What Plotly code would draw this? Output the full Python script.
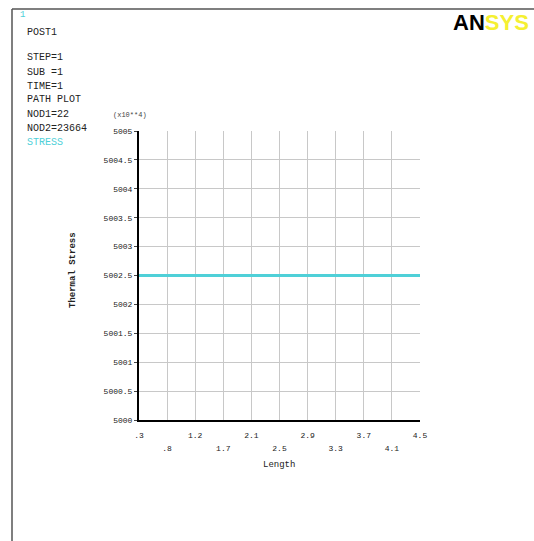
import plotly.graph_objects as go

# Data
path_length = [0.3, 4.5]
thermal_stress = [5002.5, 5002.5]   # in units of x10**4
x_tick_labels = [".3", ".8", "1.2", "1.7", "2.1", "2.5", "2.9", "3.3", "3.7", "4.1", "4.5"]
y_tick_vals = [5000, 5000.5, 5001, 5001.5, 5002, 5002.5, 5003, 5003.5, 5004, 5004.5, 5005]
y_tick_labels = ["5000", "5000.5", "5001", "5001.5", "5002", "5002.5", "5003", "5003.5", "5004", "5004.5", "5005"]
info_lines = ["STEP=1", "SUB =1", "TIME=1", "PATH PLOT", "NOD1=22", "NOD2=23664"]

W, H = 534, 541
L, R, T, B = 139, 420, 131, 420
def px(x):
    return (x - L) / (R - L)
def py(y):
    return (B - y) / (B - T)

n = len(x_tick_labels)
x_tick_vals = [path_length[0] + i * (path_length[1] - path_length[0]) / (n - 1) for i in range(n)]
odd_vals = x_tick_vals[1::2]
odd_text = x_tick_labels[1::2]

mono = "Liberation Mono, DejaVu Sans Mono, monospace"

fig = go.Figure()
fig.add_trace(go.Scatter(x=path_length, y=thermal_stress, mode="lines",
                         line=dict(color="#4fd0d8", width=3), showlegend=False, hoverinfo="skip"))
fig.add_trace(go.Scatter(x=path_length, y=thermal_stress, xaxis="x2", mode="lines",
                         line=dict(color="rgba(0,0,0,0)", width=0), showlegend=False, hoverinfo="skip"))

fig.update_layout(
    width=W, height=H,
    margin=dict(l=L, r=W - R, t=T, b=H - B),
    paper_bgcolor="white", plot_bgcolor="white",
    font=dict(family=mono, size=8, color="#222"),
    xaxis=dict(range=[path_length[0], path_length[1]],
               tickvals=x_tick_vals, ticktext=[t if i % 2 == 0 else "" for i, t in enumerate(x_tick_labels)],
               showgrid=True, gridcolor="#c8c8c8", gridwidth=1, zeroline=False,
               showline=True, linecolor="black", linewidth=2, ticks="", tickangle=0,
               ticklabelstandoff=6, tickfont=dict(size=8)),
    xaxis2=dict(overlaying="x", anchor="y", side="bottom", matches="x",
                range=[path_length[0], path_length[1]],
                tickvals=odd_vals, ticktext=odd_text, showgrid=False, zeroline=False,
                showline=False, ticks="", tickangle=0, ticklabelstandoff=22,
                tickfont=dict(size=8)),
    yaxis=dict(range=[5000, 5005], tickvals=y_tick_vals, ticktext=y_tick_labels,
               showgrid=True, gridcolor="#c8c8c8", gridwidth=1, zeroline=False,
               showline=True, linecolor="black", linewidth=2, ticks="outside", ticklen=3,
               tickcolor="#444", tickfont=dict(size=8)),
)

def ann(x, y, text, size=10, color="#222", xanchor="left", **kw):
    return dict(xref="paper", yref="paper", x=px(x), y=py(y), text=text,
                font=dict(size=size, family=kw.pop("family", mono), color=color),
                showarrow=False, xanchor=xanchor, yanchor="middle", **kw)

anns = [
    ann(18, 15, "1", size=9, color="#4fd0d8"),
    ann(25, 32, "POST1"),
]
for i, s in enumerate(info_lines):
    anns.append(ann(25, 58 + i * 14, s))
anns.append(ann(25, 142, "STRESS", color="#4fd0d8"))
anns.append(ann(111, 115, "(x10**4)", size=7, color="#444"))
anns.append(ann(279, 465, "Length", size=9, xanchor="center"))
anns.append(ann(73, 270, "<b>Thermal Stress</b>", size=9, xanchor="center", textangle=-90))
anns.append(ann(531, 22,
                "<b><span style='color:black'>AN</span><span style='color:#f5f032'>SYS</span></b>",
                size=22, xanchor="right",
                family="Liberation Sans Narrow, Liberation Sans, sans-serif"))
fig.update_layout(annotations=anns)

fig.update_layout(shapes=[
    dict(type="line", xref="paper", yref="paper", x0=px(12), x1=px(W + 5), y0=py(9), y1=py(9),
         line=dict(color="#555", width=1.5)),
    dict(type="line", xref="paper", yref="paper", x0=px(12), x1=px(12), y0=py(9), y1=py(H + 5),
         line=dict(color="#555", width=1.5)),
])

fig.write_html("out.html", config={"displayModeBar": False},
               post_script="document.body.style.margin='0';")
